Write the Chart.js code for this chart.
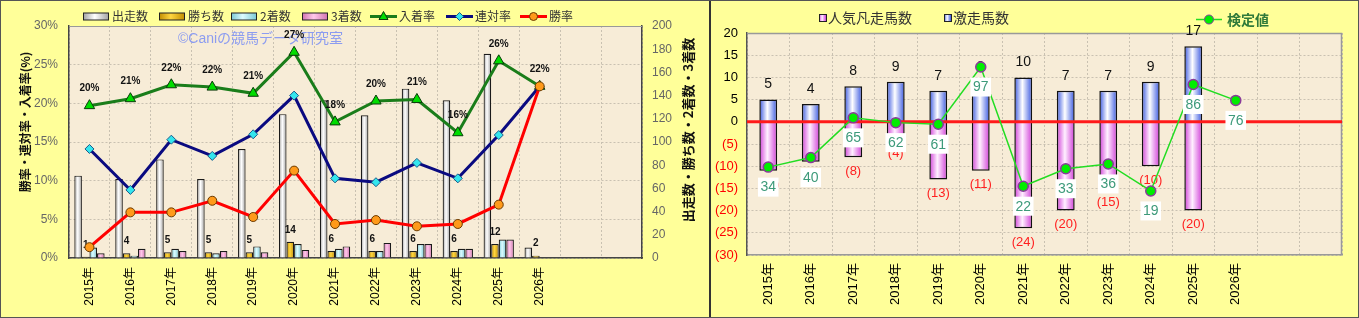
<!DOCTYPE html>
<html>
<head>
<meta charset="utf-8">
<script src="https://cdn.jsdelivr.net/npm/chart.js@4.4.1/dist/chart.umd.min.js"></script>
<style>
html, body { margin: 0; padding: 0; background: #ffff99; }
#wrap { position: relative; width: 1359px; height: 318px; background: #ffff99; overflow: hidden; }
#left { position: absolute; left: 0; top: 0; }
#right { position: absolute; left: 711px; top: 0; }
#frame { position: absolute; left: 0; top: 0; width: 1357px; height: 316px; border: 1px solid #555; pointer-events: none; }
#divider { position: absolute; left: 709px; top: 0; width: 2px; height: 318px; background: #333; }
</style>
</head>
<body>
<div id="wrap">
  <canvas id="left" width="709" height="318"></canvas>
  <canvas id="right" width="648" height="318"></canvas>
  <div id="divider"></div>
  <div id="frame"></div>
</div>
<script>
const FONT = '"Liberation Sans", "Noto Sans CJK JP", sans-serif';
const JP = '"Noto Sans CJK JP", sans-serif';
Chart.defaults.font.family = FONT;
Chart.defaults.animation = false;

// ---- data (left chart) ----
const years = ['2015年', '2016年', '2017年', '2018年', '2019年', '2020年', '2021年',
               '2022年', '2023年', '2024年', '2025年', '2026年', '', ''];
const runs    = [71, 68, 85, 68, 94, 124, 136, 123, 146, 136, 176, 9];
const wins    = [1, 4, 5, 5, 5, 14, 6, 6, 6, 6, 12, 2];
const seconds = [9, 2, 8, 4, 10, 12, 8, 6, 12, 8, 16, 0];
const thirds  = [4, 8, 6, 6, 5, 7, 10, 13, 12, 8, 16, 0];
const winRate    = [1.4, 5.9, 5.9, 7.4, 5.3, 11.3, 4.4, 4.9, 4.1, 4.4, 6.9, 22.2];
const rentaiRate = [14.1, 8.8, 15.3, 13.2, 16.0, 21.0, 10.3, 9.8, 12.3, 10.3, 15.9, 22.2];
const placeRate  = [19.7, 20.6, 22.4, 22.1, 21.3, 26.6, 17.6, 20.3, 20.5, 16.2, 25.5, 22.2];

// ---- data (right chart) ----
const upsetCount = [5, 4, 8, 9, 7, 9, 10, 7, 7, 9, 17, null];
const flopCount  = [-11, -9, -8, -4, -13, -11, -24, -20, -15, -10, -20, null];
const testValue  = [34, 40, 65, 62, 61, 97, 22, 33, 36, 19, 86, 76];

const PAPER = '#f7ecd7';
const GRID = '#c9c1b1';

function hGrad(chart, left, width, edge, mid) {
  if (!isFinite(left) || !isFinite(width) || width <= 0) return mid;
  const g = chart.ctx.createLinearGradient(left, 0, left + width, 0);
  g.addColorStop(0, edge);
  g.addColorStop(0.45, mid);
  g.addColorStop(1, edge);
  return g;
}

// gradient for one bar of a group (k = position in group)
function groupFill(k, n, catPct, edge, mid) {
  return ctx => {
    const chart = ctx.chart, x = chart.scales.x;
    if (!x || ctx.dataIndex === undefined) return mid;
    const step = x.getPixelForValue(1) - x.getPixelForValue(0);
    const group = step * catPct, w = group / n;
    const left = x.getPixelForValue(ctx.dataIndex) - group / 2 + w * k;
    return hGrad(chart, left, w, edge, mid);
  };
}

function marker(ctx, style, x, y, r, fill, stroke) {
  ctx.save();
  ctx.fillStyle = fill;
  ctx.strokeStyle = stroke;
  ctx.lineWidth = 1;
  ctx.beginPath();
  if (style === 'triangle') {
    ctx.moveTo(x, y - r);
    ctx.lineTo(x + r * 0.9, y + r * 0.6);
    ctx.lineTo(x - r * 0.9, y + r * 0.6);
    ctx.closePath();
  } else if (style === 'rectRot') {
    ctx.moveTo(x, y - r); ctx.lineTo(x + r, y); ctx.lineTo(x, y + r); ctx.lineTo(x - r, y);
    ctx.closePath();
  } else {
    ctx.arc(x, y, r, 0, Math.PI * 2);
  }
  ctx.fill();
  ctx.stroke();
  ctx.restore();
}

function vText(ctx, text, x, y, font, color) {
  ctx.save();
  ctx.translate(x, y);
  ctx.rotate(-Math.PI / 2);
  ctx.font = font;
  ctx.fillStyle = color;
  ctx.textAlign = 'center';
  ctx.textBaseline = 'middle';
  ctx.fillText(text, 0, 0);
  ctx.restore();
}

// ---- left chart ----
const leftLegend = [
  { kind: 'box', x: 83, text: '出走数', edge: '#a0a0a0', mid: '#ffffff' },
  { kind: 'box', x: 159, text: '勝ち数', edge: '#c08c00', mid: '#ffd640' },
  { kind: 'box', x: 231, text: '2着数', edge: '#78c8d4', mid: '#dcfbff' },
  { kind: 'box', x: 302, text: '3着数', edge: '#d070b0', mid: '#ffc8ea' },
  { kind: 'line', x: 370, text: '入着率', color: '#1a7d1a', style: 'triangle', fill: '#00dd00', stroke: '#0a3a0a', r: 5 },
  { kind: 'line', x: 446, text: '連対率', color: '#0a0a80', style: 'rectRot', fill: '#33e6ee', stroke: '#1a5a8a', r: 4 },
  { kind: 'line', x: 520, text: '勝率', color: '#ff0000', style: 'circle', fill: '#ff9a1a', stroke: '#6b3a00', r: 4 }
];

const leftDecor = {
  id: 'leftDecor',
  beforeDraw(chart) {
    const { ctx, chartArea: a } = chart;
    ctx.save();
    ctx.fillStyle = PAPER;
    ctx.fillRect(a.left, a.top, a.right - a.left, a.bottom - a.top);
    ctx.restore();
  },
  beforeDatasetsDraw(chart) {
    const { ctx, chartArea: a } = chart;
    ctx.save();
    ctx.strokeStyle = '#999';
    ctx.lineWidth = 1;
    ctx.beginPath();
    ctx.moveTo(a.left, a.top + 0.5);
    ctx.lineTo(a.right, a.top + 0.5);
    ctx.stroke();
    ctx.font = '14px ' + FONT;
    ctx.fillStyle = '#8c9cf0';
    ctx.textBaseline = 'middle';
    ctx.fillText('©Caniの競馬データ研究室', 178, 39);
    ctx.restore();
  },
  beforeDatasetDraw(chart, args) {
    if (args.index !== 2) return;
    // 勝ち数 labels, under the lines
    const ctx = chart.ctx;
    const meta = chart.getDatasetMeta(4);
    ctx.save();
    ctx.font = 'bold 10px ' + FONT;
    ctx.fillStyle = '#111';
    ctx.textAlign = 'center';
    ctx.textBaseline = 'middle';
    meta.data.forEach((el, i) => {
      if (wins[i] == null) return;
      ctx.fillText(String(wins[i]), el.x, el.y - 12);
    });
    ctx.restore();
  },
  afterDatasetsDraw(chart) {
    const ctx = chart.ctx;
    const meta = chart.getDatasetMeta(2);
    ctx.save();
    ctx.font = 'bold 10px ' + FONT;
    ctx.fillStyle = '#111';
    ctx.textAlign = 'center';
    ctx.textBaseline = 'middle';
    meta.data.forEach((el, i) => {
      ctx.fillText(Math.round(placeRate[i]) + '%', el.x, el.y - 17);
    });
    ctx.restore();
  },
  afterDraw(chart) {
    const ctx = chart.ctx;
    const y = 16.5;
    ctx.save();
    leftLegend.forEach(it => {
      if (it.kind === 'box') {
        ctx.fillStyle = hGrad(chart, it.x, 26, it.edge, it.mid);
        ctx.fillRect(it.x, y - 3.5, 26, 7);
        ctx.strokeStyle = '#222';
        ctx.lineWidth = 1;
        ctx.strokeRect(it.x + 0.5, y - 3.5, 25, 7);
      } else {
        ctx.strokeStyle = it.color;
        ctx.lineWidth = 3;
        ctx.beginPath();
        ctx.moveTo(it.x, y);
        ctx.lineTo(it.x + 27, y);
        ctx.stroke();
        marker(ctx, it.style, it.x + 13.5, y, it.r, it.fill, it.stroke);
      }
      ctx.font = '12px ' + JP;
      ctx.fillStyle = '#333';
      ctx.textBaseline = 'middle';
      ctx.textAlign = 'left';
      ctx.fillText(it.text, it.x + 29, y);
    });
    const a = chart.chartArea;
    vText(ctx, '勝率・連対率・入着率(%)', 25, 122, 'bold 12px ' + JP, '#111');
    vText(ctx, '出走数・勝ち数・2着数・3着数', a.right + 46, 130, 'bold 13px ' + JP, '#111');
    ctx.restore();
  }
};

new Chart(document.getElementById('left'), {
  type: 'bar',
  data: {
    labels: years,
    datasets: [
      { type: 'line', label: '勝率', data: winRate, yAxisID: 'yRate', borderColor: '#ff0000', borderWidth: 3,
        tension: 0, pointStyle: 'circle', pointRadius: 4.5, pointBackgroundColor: '#ff9a1a',
        pointBorderColor: '#6b3a00', pointBorderWidth: 1 },
      { type: 'line', label: '連対率', data: rentaiRate, yAxisID: 'yRate', borderColor: '#0a0a80', borderWidth: 3,
        tension: 0, pointStyle: 'rectRot', pointRadius: 4.5, pointBackgroundColor: '#33e6ee',
        pointBorderColor: '#1a5a8a', pointBorderWidth: 1 },
      { type: 'line', label: '入着率', data: placeRate, yAxisID: 'yRate', borderColor: '#1a7d1a', borderWidth: 3,
        tension: 0, pointStyle: 'triangle', pointRadius: 6, pointBackgroundColor: '#00dd00',
        pointBorderColor: '#0a3a0a', pointBorderWidth: 1 },
      { label: '出走数', data: runs, yAxisID: 'yCount', backgroundColor: groupFill(0, 4, 0.74, '#a0a0a0', '#ffffff'),
        borderColor: '#1a1a1a', borderWidth: 1.2 },
      { label: '勝ち数', data: wins, yAxisID: 'yCount', backgroundColor: groupFill(1, 4, 0.74, '#c08c00', '#ffd640'),
        borderColor: '#1a1a1a', borderWidth: 1.2 },
      { label: '2着数', data: seconds, yAxisID: 'yCount', backgroundColor: groupFill(2, 4, 0.74, '#78c8d4', '#dcfbff'),
        borderColor: '#1a1a1a', borderWidth: 1.2 },
      { label: '3着数', data: thirds, yAxisID: 'yCount', backgroundColor: groupFill(3, 4, 0.74, '#d070b0', '#ffc8ea'),
        borderColor: '#1a1a1a', borderWidth: 1.2 }
    ]
  },
  options: {
    responsive: false,
    animation: false,
    layout: { padding: { top: 26, left: 0, right: 0, bottom: 0 } },
    datasets: { bar: { categoryPercentage: 0.74, barPercentage: 1.0 } },
    plugins: { legend: { display: false }, tooltip: { enabled: false } },
    scales: {
      x: {
        offset: true,
        grid: { offset: true, color: GRID, drawTicks: false },
        border: { color: '#444', width: 1.5, dash: [2, 2] },
        ticks: { autoSkip: false, minRotation: 90, maxRotation: 90, padding: 9, color: '#000', font: { size: 12 } },
        afterFit: s => { s.height = 60; }
      },
      yRate: {
        position: 'left', min: 0, max: 30,
        ticks: { stepSize: 5, callback: v => v + '%', color: '#666', font: { size: 12 }, padding: 11 },
        grid: { color: GRID, drawTicks: false },
        border: { color: '#444', width: 1.5, dash: [2, 2] },
        afterFit: s => { s.width = 69; }
      },
      yCount: {
        position: 'right', min: 0, max: 200,
        ticks: { stepSize: 20, color: '#666', font: { size: 12 }, padding: 10 },
        grid: { drawOnChartArea: false, drawTicks: false },
        border: { color: '#444', width: 1.5 },
        afterFit: s => { s.width = 67; }
      }
    }
  },
  plugins: [leftDecor]
});

// ---- right chart ----
const rightLegend = [
  { kind: 'box', x: 108, text: '人気凡走馬数', edge: '#d040d8', mid: '#fff0ff' },
  { kind: 'box', x: 233, text: '激走馬数', edge: '#3a58e0', mid: '#ffffff' },
  { kind: 'line', x: 485, text: '検定値' }
];

function singleFill(pct, edge, mid) {
  return ctx => {
    const chart = ctx.chart, x = chart.scales.x;
    if (!x || ctx.dataIndex === undefined) return mid;
    const step = x.getPixelForValue(1) - x.getPixelForValue(0);
    const w = step * pct;
    return hGrad(chart, x.getPixelForValue(ctx.dataIndex) - w / 2, w, edge, mid);
  };
}

const rightDecor = {
  id: 'rightDecor',
  beforeDraw(chart) {
    const { ctx, chartArea: a } = chart;
    ctx.save();
    ctx.fillStyle = PAPER;
    ctx.fillRect(a.left, a.top, a.right - a.left, a.bottom - a.top);
    ctx.restore();
  },
  beforeDatasetsDraw(chart) {
    const { ctx, chartArea: a } = chart;
    ctx.save();
    ctx.strokeStyle = '#999';
    ctx.lineWidth = 1.5;
    ctx.beginPath();
    ctx.moveTo(a.left, a.top + 0.5);
    ctx.lineTo(a.right - 0.5, a.top + 0.5);
    ctx.lineTo(a.right - 0.5, a.bottom);
    ctx.stroke();
    ctx.restore();
  },
  beforeDatasetDraw(chart, args) {
    if (args.index !== 0) return;
    const { ctx, chartArea: a } = chart;
    const y0 = chart.scales.y.getPixelForValue(0);
    ctx.save();
    ctx.strokeStyle = '#ff1a1a';
    ctx.lineWidth = 3;
    ctx.beginPath();
    ctx.moveTo(a.left, y0);
    ctx.lineTo(a.right, y0);
    ctx.stroke();
    ctx.font = '14px ' + FONT;
    ctx.textAlign = 'center';
    ctx.textBaseline = 'middle';
    chart.getDatasetMeta(2).data.forEach((el, i) => {
      if (upsetCount[i] == null) return;
      ctx.fillStyle = '#111';
      ctx.fillText(String(upsetCount[i]), el.x, el.y - 15);
    });
    ctx.font = '13px ' + FONT;
    chart.getDatasetMeta(1).data.forEach((el, i) => {
      if (flopCount[i] == null) return;
      ctx.fillStyle = '#ff2020';
      ctx.fillText('(' + (-flopCount[i]) + ')', el.x, el.y + 14);
    });
    ctx.restore();
  },
  afterDatasetsDraw(chart) {
    const ctx = chart.ctx;
    ctx.save();
    ctx.font = '14px ' + FONT;
    ctx.textAlign = 'center';
    ctx.textBaseline = 'middle';
    chart.getDatasetMeta(0).data.forEach((el, i) => {
      const t = String(testValue[i]);
      const w = ctx.measureText(t).width + 5;
      ctx.fillStyle = '#ffffff';
      ctx.fillRect(el.x - w / 2, el.y + 10.5, w, 19);
      ctx.fillStyle = '#3d9a7a';
      ctx.fillText(t, el.x, el.y + 20.5);
    });
    ctx.restore();
  },
  afterDraw(chart) {
    const ctx = chart.ctx;
    ctx.save();
    rightLegend.forEach(it => {
      const y = 18;
      if (it.kind === 'box') {
        ctx.fillStyle = hGrad(chart, it.x, 7, it.edge, it.mid);
        ctx.fillRect(it.x, y - 3.5, 7, 7);
        ctx.strokeStyle = '#222';
        ctx.lineWidth = 1;
        ctx.strokeRect(it.x + 0.5, y - 3.5, 7, 7);
        ctx.font = '14px ' + JP;
        ctx.fillStyle = '#333';
        ctx.textBaseline = 'middle';
        ctx.fillText(it.text, it.x + 9, y);
      } else {
        const yl = 19.5;
        ctx.strokeStyle = '#22dd22';
        ctx.lineWidth = 1.5;
        ctx.beginPath();
        ctx.moveTo(it.x, yl);
        ctx.lineTo(it.x + 26, yl);
        ctx.stroke();
        marker(ctx, 'circle', it.x + 13, yl, 4.5, '#00ee00', '#8a3a9a');
        ctx.font = 'bold 14px ' + JP;
        ctx.fillStyle = '#2f7a3a';
        ctx.textBaseline = 'middle';
        ctx.fillText(it.text, it.x + 31, yl);
      }
    });
    ctx.restore();
  }
};

new Chart(document.getElementById('right'), {
  type: 'bar',
  data: {
    labels: years,
    datasets: [
      { type: 'line', label: '検定値', data: testValue, yAxisID: 'y2', borderColor: '#22dd22', borderWidth: 1.5,
        tension: 0, pointRadius: 5, pointBackgroundColor: '#00ee00', pointBorderColor: '#8a3a9a', pointBorderWidth: 1.5 },
      { label: '人気凡走馬数', data: flopCount, yAxisID: 'y', backgroundColor: singleFill(0.42, '#d040d8', '#fff0ff'),
        borderColor: '#111', borderWidth: 1.5 },
      { label: '激走馬数', data: upsetCount, yAxisID: 'y', backgroundColor: singleFill(0.42, '#3a58e0', '#ffffff'),
        borderColor: '#111', borderWidth: 1.5 }
    ]
  },
  options: {
    responsive: false,
    animation: false,
    layout: { padding: { top: 33, left: 0, right: 17, bottom: 0 } },
    datasets: { bar: { categoryPercentage: 1.0, barPercentage: 0.42 } },
    plugins: { legend: { display: false }, tooltip: { enabled: false } },
    scales: {
      x: {
        stacked: true, offset: true,
        grid: { offset: true, color: GRID, drawTicks: false },
        border: { color: '#999', width: 1.5, dash: [2, 2] },
        ticks: { autoSkip: false, minRotation: 90, maxRotation: 90, padding: 8, color: '#000', font: { size: 13 } },
        afterFit: s => { s.height = 63; }
      },
      y: {
        min: -30, max: 20,
        ticks: {
          stepSize: 5,
          callback: v => v < 0 ? '(' + (-v) + ')' : String(v),
          color: c => (c.tick && c.tick.value < 0) ? '#ff0000' : '#000',
          font: { size: 13 }, padding: 9
        },
        grid: { color: GRID, drawTicks: false },
        border: { color: '#555', width: 1.5, dash: [2, 2] },
        afterFit: s => { s.width = 36; }
      },
      y2: { display: false, min: -21.3, max: 118.4 }
    }
  },
  plugins: [rightDecor]
});
</script>
</body>
</html>
